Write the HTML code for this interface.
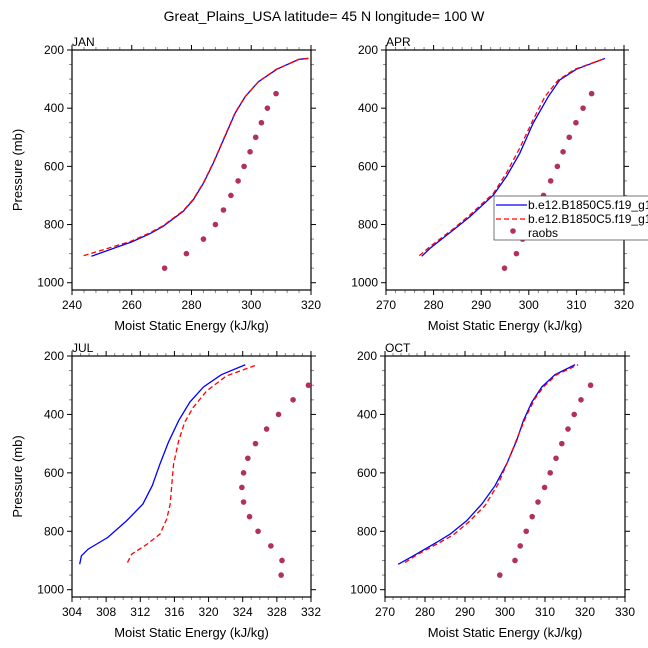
<!DOCTYPE html>
<html><head><meta charset="utf-8"><style>
body{margin:0;background:#fff}
svg{display:block;font-family:"Liberation Sans",sans-serif}
</style></head><body>
<svg id="chart" width="648" height="648" viewBox="0 0 648 648">
<text x="324" y="21" text-anchor="middle" font-size="14">Great_Plains_USA  latitude= 45 N longitude= 100 W</text>
</svg>
<script>
const pLev = [950,900,850,800,750,700,650,600,550,500,450,400,350,300];
const janBlueX = [246.5,259.9,266,270.5,277.2,280.6,284,287.3,290.7,294.6,298,302.4,308.6,316,319];
const janBlueP = [909,860,832,806,755,715,658,589,509,417,360,309,266,232,229];
const janRedX = [243.9,259.6,265.8,270.5,277.2,280.6,284,287.3,290.7,294.6,298,302.4,308.4,316,319.2];
const janRedP = [907,858,830,804,753,713,656,587,507,415,360,309,266,232,229];
const janObs = [271,278.3,284,288,290.7,293.2,295.6,297.6,299.6,301.5,303.4,305.4,308.3];
const aprBlueX = [277.5,279.3,284.2,287.7,292.6,295.3,298.1,300.9,304.1,306.5,310,316];
const aprBlueP = [909,881,818,772,698,635,555,452,360,303,266,229];
const aprRedX = [277,279.3,284.2,287.7,292.6,295.3,298.1,300.9,303.4,306.2,309.7,316];
const aprRedP = [907,875,814,766,692,623,537,440,360,303,266,229];
const aprObs = [294.9,297.4,298.7,300.2,301.6,303.1,304.6,306,307.2,308.5,309.9,311.4,313.2];
const julBlueX = [304.9,305.1,305.9,308.2,310.4,312.3,313.4,314.3,315.3,316.5,317.8,319.4,321.5,324.3];
const julBlueP = [913,884,861,821,764,707,644,570,495,421,358,306,264,230];
const julRedX = [310.5,311,312.7,314.3,315.1,315.5,315.7,315.9,316.5,317.2,318.2,319.8,322.1,325.7];
const julRedP = [907,878,846,810,758,707,638,570,490,427,376,319,268,230];
const julObs = [328.5,328.6,327.3,325.8,324.8,324.1,323.9,324.1,324.6,325.5,326.8,328.2,329.9,331.7];
const octBlueX = [273.3,277.1,282.9,286.25,290.4,294.2,297.5,300.4,302.9,304.6,306.7,309.2,312.5,317.5];
const octBlueP = [913,884,838,810,764,707,644,570,490,421,358,306,264,230];
const octRedX = [275,277.9,283.75,287.1,290.8,295,298.3,300.8,303.3,305.4,307.5,309.6,312.9,318.3];
const octRedP = [907,881,838,812,770,712,638,558,472,403,346,306,264,230];
const octObs = [298.7,302.5,303.8,305.3,306.8,308.25,309.9,311.3,312.75,314.2,315.75,317.3,319,321.4];
const yTicks = [200,400,600,800,1000];

const NS="http://www.w3.org/2000/svg";
const svg=document.getElementById('chart');
function mk(tag,attrs,parent){const e=document.createElementNS(NS,tag);for(const k in attrs)e.setAttribute(k,attrs[k]);(parent||svg).appendChild(e);return e;}

const panels=[
 {name:'jan',label:'JAN',L:72,R:311,T:50,B:290,x0:240,x1:320,xt:[240,260,280,300,320],xm:5,bx:janBlueX,bp:janBlueP,rx:janRedX,rp:janRedP,obs:janObs,ylab:true},
 {name:'apr',label:'APR',L:386,R:624,T:50,B:290,x0:270,x1:320,xt:[270,280,290,300,310,320],xm:5,bx:aprBlueX,bp:aprBlueP,rx:aprRedX,rp:aprRedP,obs:aprObs,ylab:false},
 {name:'jul',label:'JUL',L:72,R:311,T:356,B:597,x0:304,x1:332,xt:[304,308,312,316,320,324,328,332],xm:4,bx:julBlueX,bp:julBlueP,rx:julRedX,rp:julRedP,obs:julObs,ylab:true},
 {name:'oct',label:'OCT',L:385,R:625,T:356,B:597,x0:270,x1:330,xt:[270,280,290,300,310,320,330],xm:5,bx:octBlueX,bp:octBlueP,rx:octRedX,rp:octRedP,obs:octObs,ylab:false}
];
panels.forEach(p=>{
 const g=mk('g',{});
 
 
 const sx=v=>p.L+(v-p.x0)/(p.x1-p.x0)*(p.R-p.L);
 const sy=v=>p.T+(v-200)/825*(p.B-p.T);
 const cid='clip-'+p.name;
 const cp=mk('clipPath',{id:cid},g);mk('rect',{x:p.L,y:p.T,width:p.R-p.L,height:p.B-p.T},cp);
 const tg=mk('g',{stroke:'#000','stroke-width':1},g);
 
 
 for(let i=0;i<p.xt.length;i++){
  const x=sx(p.xt[i]);
  mk('line',{x1:x,x2:x,y1:p.B,y2:p.B+5},tg);mk('line',{x1:x,x2:x,y1:p.T,y2:p.T-5},tg);
  if(i<p.xt.length-1){const step=(p.xt[i+1]-p.xt[i])/p.xm;for(let k=1;k<p.xm;k++){const xx=sx(p.xt[i]+k*step);
   mk('line',{x1:xx,x2:xx,y1:p.B,y2:p.B+3,stroke:'#888'},tg);mk('line',{x1:xx,x2:xx,y1:p.T,y2:p.T-3,stroke:'#888'},tg);}}
  const t=mk('text',{x:x,y:p.B+19,'text-anchor':'middle','font-size':12,stroke:'none'},g);t.textContent=p.xt[i];
  
  
 }
 for(let v=200;v<=1000;v+=50){const y=sy(v);const maj=v%200===0;
  mk('line',{x1:p.L,x2:p.L-(maj?5:3),y1:y,y2:y,stroke:maj?'#000':'#888'},tg);
  mk('line',{x1:p.R,x2:p.R+(maj?5:3),y1:y,y2:y,stroke:maj?'#000':'#888'},tg);}
 yTicks.forEach(v=>{const t=mk('text',{x:p.L-8,y:sy(v)+4,'text-anchor':'end','font-size':12},g);t.textContent=v;
  
  });
 const fr=mk('rect',{x:p.L,y:p.T,width:p.R-p.L,height:p.B-p.T,fill:'none',stroke:'#000','stroke-width':1.2},g);
 
 
 const lb=mk('text',{x:p.L,y:p.T-4,'font-size':12},g);lb.textContent=p.label;
 
 
 const xl=mk('text',{x:(p.L+p.R)/2,y:p.B+40,'text-anchor':'middle','font-size':13},g);xl.textContent='Moist Static Energy (kJ/kg)';
 
 
 if(p.ylab){const cy=(p.T+p.B)/2;const yl=mk('text',{x:22,y:cy,'text-anchor':'middle','font-size':13,transform:`rotate(-90 22 ${cy})`},g);yl.textContent='Pressure (mb)';
  
  }
 const dg=mk('g',{'clip-path':`url(#${cid})`},g);
 const bl=mk('polyline',{points:p.bx.map((v,i)=>sx(v)+','+sy(p.bp[i])).join(' '),fill:'none',stroke:'#0000ff','stroke-width':1.3},dg);
 
 
 const rl=mk('polyline',{points:p.rx.map((v,i)=>sx(v)+','+sy(p.rp[i])).join(' '),fill:'none',stroke:'#ff0000','stroke-width':1.3,'stroke-dasharray':'5,3'},dg);
 
 
 p.obs.forEach((v,i)=>{const c=mk('circle',{cx:sx(v),cy:sy(pLev[i]),r:2.8,fill:'#b03060'},dg);
  
  });
});
const lg=mk('g',{});


mk('rect',{x:494,y:196,width:160,height:44,fill:'#fff',stroke:'#555','stroke-width':0.8},lg);
mk('line',{x1:496,x2:527,y1:205,y2:205,stroke:'#0000ff','stroke-width':1.3},lg);
mk('line',{x1:496,x2:527,y1:219,y2:219,stroke:'#ff0000','stroke-width':1.3,'stroke-dasharray':'5,3'},lg);
mk('circle',{cx:513,cy:231,r:2.8,fill:'#b03060'},lg);
[['b.e12.B1850C5.f19_g16',209],['b.e12.B1850C5.f19_g16',223],['raobs',237]].forEach((d,i)=>{
 const t=mk('text',{x:528,y:d[1],'font-size':12},lg);t.textContent=d[0];
 
 
});
</script>
</body></html>
